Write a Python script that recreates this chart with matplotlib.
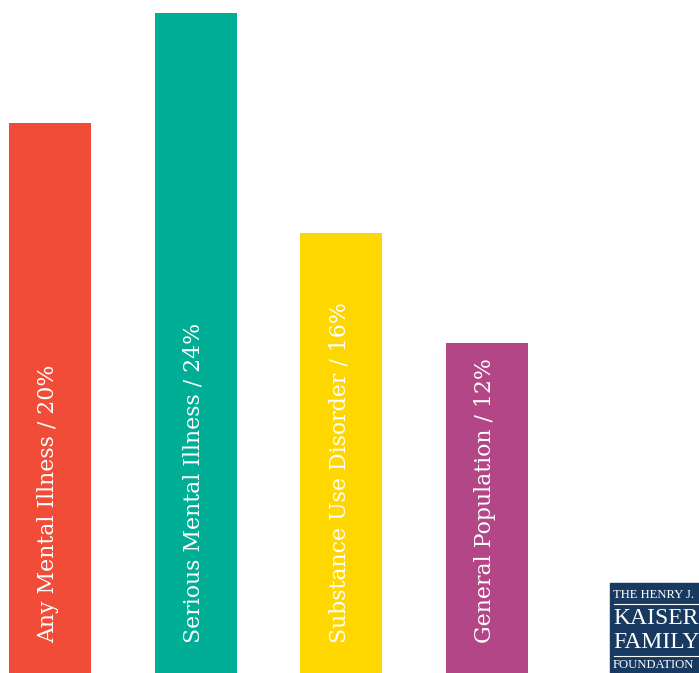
import matplotlib
matplotlib.use("Agg")
from matplotlib import pyplot as plt
from matplotlib.patches import Rectangle

# data
labels = ["Any Mental Illness", "Serious Mental Illness", "Substance Use Disorder", "General Population"]
values = [20, 24, 16, 12]
colors = ["#f04c38", "#00ae96", "#fed700", "#b24686"]

W, H = 699, 673
fig = plt.figure(figsize=(W / 100, H / 100), dpi=100)
ax = fig.add_axes([0, 0, 1, 1])

step = 145.67  # px between bars
px_per_pct = 27.5
xs = list(range(len(values)))
ax.bar(xs, values, width=82 / step, color=colors)

for x, lab, v in zip(xs, labels, values):
	ax.text(x - 0.015, 30 / px_per_pct, f"{lab} / {v}%", rotation=90,
			ha="center", va="bottom", color="white", fontsize=15.8, family="DejaVu Serif")

ax.set_xlim(-50 / step, (W - 50) / step)
ax.set_ylim(0, H / px_per_pct)
ax.axis("off")

# logo box in the corner
x0, y0 = 610 / W, 0
bw, bh = (W - 610) / W, 90 / H
fig.patches.append(Rectangle((x0, y0), bw, bh, transform=fig.transFigure, color="#183a60", zorder=5))
def fy(py):
	return 1 - py / H
fig.add_artist(plt.Line2D([614 / W, 1], [fy(604), fy(604)], color="white", lw=0.8, zorder=6))
fig.add_artist(plt.Line2D([614 / W, 1], [fy(656), fy(656)], color="white", lw=0.8, zorder=6))
logo = [("THE HENRY J.", 595, 9.1), ("KAISER", 619, 17), ("FAMILY", 643, 17), ("FOUNDATION", 665, 9.1)]
for txt, py, fs in logo:
	fig.text(613 / W, fy(py), txt, color="white", fontsize=fs, family="Liberation Serif",
			 ha="left", va="center", zorder=7)

fig.savefig("out.png", dpi=100)
